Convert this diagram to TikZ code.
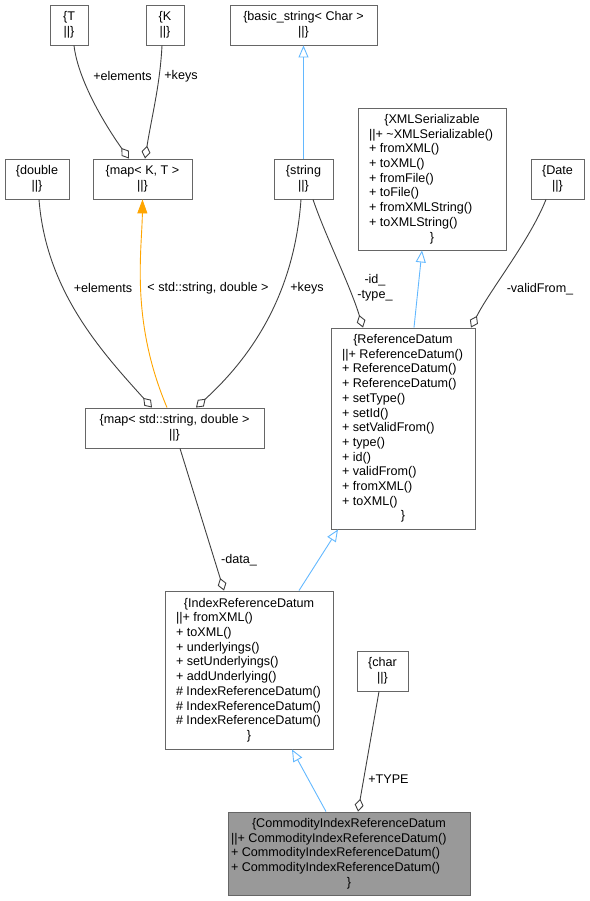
\documentclass[tikz,border=0pt]{standalone}
\usepackage{fontspec}
\setmainfont{Liberation Sans}
\usetikzlibrary{arrows.meta}
\definecolor{edgec}{HTML}{404040}
\definecolor{inhc}{HTML}{63B8FF}
\definecolor{tplc}{HTML}{FFA500}
\definecolor{boxc}{HTML}{666666}
\definecolor{curc}{HTML}{999999}
\newcommand{\dfont}{\fontsize{12.6}{14.7}\selectfont}
\newcommand{\rec}[3]{\parindent=0pt\parskip=0pt\centering #2\par\raggedright\leftskip=#1\relax #3\par\centering\}\par}
\begin{document}
\begin{tikzpicture}[x=1pt,y=-1pt,
  box/.style={draw=boxc, fill=white, line width=0.9pt, inner sep=0pt, font=\dfont, align=center},
  agg/.style={draw=edgec, line width=0.9pt, -{Diamond[open, length=13pt, width=9pt]}},
  inh/.style={draw=inhc, line width=0.9pt, -{Triangle[open, length=12pt, width=10pt]}},
  tpl/.style={draw=tplc, line width=0.9pt, -{Triangle[length=14pt, width=10pt]}, tplc},
  lbl/.style={font=\dfont, inner sep=0pt, align=center}]
\useasboundingbox (0,0) rectangle (589,901);

\node[box, minimum width=38pt, minimum height=40pt] (T) at (69,25) {\{T\\||\}};
\node[box, minimum width=38pt, minimum height=40pt] (K) at (165,25) {\{K\\||\}};
\node[box, minimum width=147pt, minimum height=40pt] (bs) at (303.5,25) {\{basic\_string< Char >\\||\}};
\node[box, minimum width=148pt, minimum height=142pt, text width=144pt, align=none] (xml) at (432,179)
  {\rec{9pt}{\{XMLSerializable}{||+ \textasciitilde XMLSerializable()\\+ fromXML()\\+ toXML()\\+ fromFile()\\+ toFile()\\+ fromXMLString()\\+ toXMLString()}};
\node[box, minimum width=64pt, minimum height=40pt] (double) at (37,179) {\{double\\||\}};
\node[box, minimum width=99pt, minimum height=40pt] (mapKT) at (142.5,179) {\{map< K, T >\\||\}};
\node[box, minimum width=59pt, minimum height=40pt] (str) at (303.5,179) {\{string\\||\}};
\node[box, minimum width=53pt, minimum height=40pt] (date) at (557.5,179) {\{Date\\||\}};
\node[box, minimum width=179pt, minimum height=40pt] (mapSD) at (174.5,428) {\{map< std::string, double >\\||\}};
\node[box, minimum width=144pt, minimum height=201pt, text width=140pt, align=none] (rd) at (403,428.5)
  {\rec{9pt}{\{ReferenceDatum}{||+ ReferenceDatum()\\+ ReferenceDatum()\\+ ReferenceDatum()\\+ setType()\\+ setId()\\+ setValidFrom()\\+ type()\\+ id()\\+ validFrom()\\+ fromXML()\\+ toXML()}};
\node[box, minimum width=168pt, minimum height=158pt, text width=164pt, align=none] (ird) at (249,670)
  {\rec{9pt}{\{IndexReferenceDatum}{||+ fromXML()\\+ toXML()\\+ underlyings()\\+ setUnderlyings()\\+ addUnderlying()\\\# IndexReferenceDatum()\\\# IndexReferenceDatum()\\\# IndexReferenceDatum()}};
\node[box, minimum width=51pt, minimum height=40pt] (chr) at (382.5,671) {\{char\\||\}};
\node[box, fill=curc, minimum width=242pt, minimum height=83pt, text width=238pt, align=none] (cird) at (349,853.5)
  {\rec{1pt}{\{CommodityIndexReferenceDatum}{||+ CommodityIndexReferenceDatum()\\+ CommodityIndexReferenceDatum()\\+ CommodityIndexReferenceDatum()}};

% connectors
\draw[agg] ([xshift=5pt]T.south) .. controls (78,80) and (105,125) .. ([xshift=-13.5pt]mapKT.north);
\draw[agg] ([xshift=-3pt]K.south) .. controls (160,85) and (152,115) .. ([xshift=2.5pt]mapKT.north);
\draw[inh] (str.north) -- (bs.south);
\draw[agg] ([xshift=2pt]double.south) .. controls (46,290) and (100,350) .. ([xshift=-22.5pt]mapSD.north);
\draw[tpl] ([xshift=-7.5pt]mapSD.north) .. controls (130,320) and (142,250) .. (mapKT.south);
\draw[agg] ([xshift=-2.5pt]str.south) .. controls (296,270) and (270,340) .. ([xshift=21.5pt]mapSD.north);
\draw[agg] ([xshift=9.5pt]str.south) .. controls (325,235) and (350,285) .. ([xshift=-40pt]rd.north);
\draw[inh] ([xshift=11pt]rd.north) -- ([xshift=-10pt]xml.south);
\draw[agg] ([xshift=-11.5pt]date.south) .. controls (530,240) and (490,290) .. ([xshift=68pt]rd.north);
\draw[agg] ([xshift=5.5pt]mapSD.south) -- ([xshift=-25pt]ird.north);
\draw[inh] ([xshift=50pt]ird.north) -- ([xshift=-65pt]rd.south);
\draw[inh] ([xshift=-23pt]cird.north) -- ([xshift=43pt]ird.south);
\draw[agg] ([xshift=-3.5pt]chr.south) -- ([xshift=9pt]cird.north);

% labels
\node[lbl] (l1) at (122.5,76) {+elements};
\node[lbl] (l2) at (181,76) {+keys};
\node[lbl] (l3) at (103,288) {+elements};
\node[lbl] (l4) at (208,288) {< std::string, double >};
\node[lbl] (l5) at (307,288) {+keys};
\node[lbl] (l6) at (375,288) {-id\_\\-type\_};
\node[lbl] (l7) at (540,289) {-validFrom\_};
\node[lbl] (l8) at (239,560) {-data\_};
\node[lbl] (l9) at (388.5,779) {+TYPE};
\end{tikzpicture}
\end{document}
